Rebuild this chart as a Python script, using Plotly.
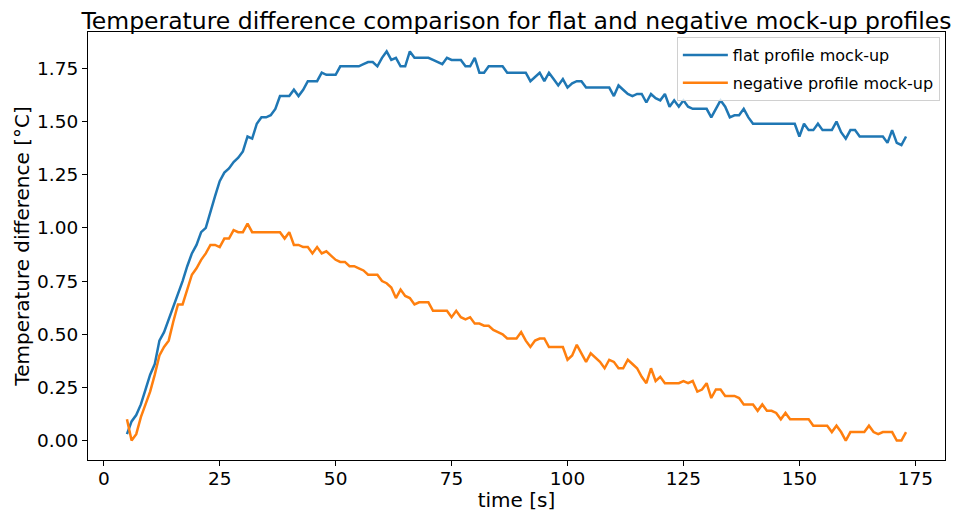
import plotly.graph_objects as go

time_s = list(range(5, 174))

flat_profile = [
    0.03, 0.09, 0.12, 0.17, 0.24, 0.31, 0.36, 0.47, 0.51, 0.57,
    0.62, 0.68, 0.75, 0.82, 0.88, 0.92, 0.98, 1.00, 1.08, 1.15,
    1.22, 1.26, 1.28, 1.31, 1.33, 1.36, 1.43, 1.42, 1.49, 1.52,
    1.52, 1.53, 1.56, 1.62, 1.62, 1.62, 1.65, 1.62, 1.65, 1.69,
    1.69, 1.69, 1.73, 1.72, 1.72, 1.72, 1.76, 1.76, 1.76, 1.76,
    1.76, 1.77, 1.78, 1.78, 1.76, 1.80, 1.83, 1.79, 1.80, 1.76,
    1.76, 1.83, 1.80, 1.80, 1.80, 1.80, 1.79, 1.78, 1.77, 1.80,
    1.79, 1.79, 1.79, 1.76, 1.76, 1.80, 1.73, 1.73, 1.76, 1.76,
    1.76, 1.76, 1.73, 1.73, 1.73, 1.73, 1.73, 1.69, 1.71, 1.73,
    1.69, 1.73, 1.70, 1.67, 1.70, 1.66, 1.68, 1.69, 1.69, 1.66,
    1.66, 1.66, 1.66, 1.66, 1.66, 1.62, 1.67, 1.65, 1.63, 1.62,
    1.63, 1.63, 1.59, 1.63, 1.61, 1.60, 1.63, 1.57, 1.60, 1.57,
    1.60, 1.57, 1.56, 1.56, 1.56, 1.56, 1.52, 1.56, 1.60, 1.57,
    1.52, 1.53, 1.53, 1.56, 1.52, 1.49, 1.49, 1.49, 1.49, 1.49,
    1.49, 1.49, 1.49, 1.49, 1.49, 1.43, 1.49, 1.46, 1.46, 1.49,
    1.46, 1.46, 1.46, 1.50, 1.45, 1.42, 1.46, 1.46, 1.43, 1.43,
    1.43, 1.43, 1.43, 1.43, 1.40, 1.46, 1.40, 1.39, 1.43,
]

negative_profile = [
    0.10, 0.00, 0.03, 0.11, 0.17, 0.23, 0.31, 0.40, 0.44, 0.47,
    0.56, 0.64, 0.64, 0.71, 0.78, 0.81, 0.85, 0.88, 0.92, 0.92,
    0.91, 0.95, 0.95, 0.99, 0.98, 0.98, 1.02, 0.98, 0.98, 0.98,
    0.98, 0.98, 0.98, 0.98, 0.95, 0.98, 0.92, 0.92, 0.91, 0.91,
    0.88, 0.91, 0.88, 0.89, 0.87, 0.85, 0.84, 0.84, 0.82, 0.82,
    0.81, 0.80, 0.78, 0.78, 0.78, 0.75, 0.74, 0.72, 0.67, 0.71,
    0.68, 0.67, 0.64, 0.65, 0.65, 0.65, 0.61, 0.61, 0.61, 0.61,
    0.58, 0.61, 0.58, 0.57, 0.58, 0.55, 0.55, 0.54, 0.54, 0.52,
    0.51, 0.50, 0.48, 0.48, 0.48, 0.51, 0.47, 0.44, 0.47, 0.48,
    0.48, 0.44, 0.44, 0.44, 0.44, 0.38, 0.40, 0.45, 0.41, 0.37,
    0.41, 0.39, 0.37, 0.34, 0.38, 0.37, 0.34, 0.34, 0.38, 0.36,
    0.34, 0.30, 0.27, 0.34, 0.28, 0.30, 0.27, 0.27, 0.27, 0.27,
    0.28, 0.27, 0.28, 0.23, 0.24, 0.27, 0.20, 0.24, 0.24, 0.21,
    0.21, 0.21, 0.20, 0.17, 0.17, 0.17, 0.14, 0.17, 0.14, 0.14,
    0.13, 0.10, 0.13, 0.10, 0.10, 0.10, 0.10, 0.10, 0.07, 0.07,
    0.07, 0.07, 0.04, 0.07, 0.04, 0.00, 0.04, 0.04, 0.04, 0.04,
    0.07, 0.04, 0.03, 0.04, 0.04, 0.04, 0.00, 0.00, 0.04,
]

x_ticks = [0, 25, 50, 75, 100, 125, 150, 175]
y_ticks = [0.00, 0.25, 0.50, 0.75, 1.00, 1.25, 1.50, 1.75]

FONT = "DejaVu Sans"

# the page body adds an 8px margin, so the figure is 8px smaller on each axis
W, H = 959, 504

fig = go.Figure()
fig.add_trace(go.Scatter(x=time_s, y=flat_profile, mode="lines",
                         name="flat profile mock-up", legendgroup="flat",
                         line=dict(color="#1f77b4", width=2.5)))
fig.add_trace(go.Scatter(x=time_s, y=negative_profile, mode="lines",
                         name="negative profile mock-up", legendgroup="neg",
                         line=dict(color="#ff7f0e", width=2.5)))

axis_common = dict(showline=True, linecolor="black", linewidth=1, mirror=True,
                   ticks="outside", ticklen=5, tickwidth=1, tickcolor="black",
                   showgrid=False, zeroline=False, automargin=False,
                   tickfont=dict(family=FONT, size=18.5, color="black"))

fig.update_layout(
    width=W, height=H,
    margin=dict(l=80, r=22, t=24, b=52),
    paper_bgcolor="white", plot_bgcolor="white",
    font=dict(family=FONT, color="black"),
    title=dict(text="Temperature difference comparison for flat and negative mock-up profiles",
               x=0.5, xref="paper", xanchor="center",
               y=1 - 13 / H, yref="container", yanchor="middle",
               font=dict(family=FONT, size=23.5, color="black"), automargin=False),
    xaxis=dict(range=[-3.4, 181.4], tickvals=x_ticks,
               ticktext=[str(t) for t in x_ticks],
               ticklabelstandoff=-3,
               title=dict(text="time [s]", font=dict(family=FONT, size=20), standoff=0),
               **axis_common),
    yaxis=dict(range=[-0.0915, 1.9215], tickvals=y_ticks,
               ticktext=[f"{t:.2f}" for t in y_ticks],
               title=dict(text="Temperature difference [°C]", font=dict(family=FONT, size=20), standoff=2),
               **axis_common),
    legend=dict(x=0.994, y=0.988, xanchor="right", yanchor="top",
                itemwidth=45, tracegroupgap=4, traceorder="grouped",
                bgcolor="rgba(255,255,255,0.8)", bordercolor="#d0d0d0", borderwidth=1,
                font=dict(family=FONT, size=16, color="black")),
    showlegend=True,
)

fig.write_html("out.html")
